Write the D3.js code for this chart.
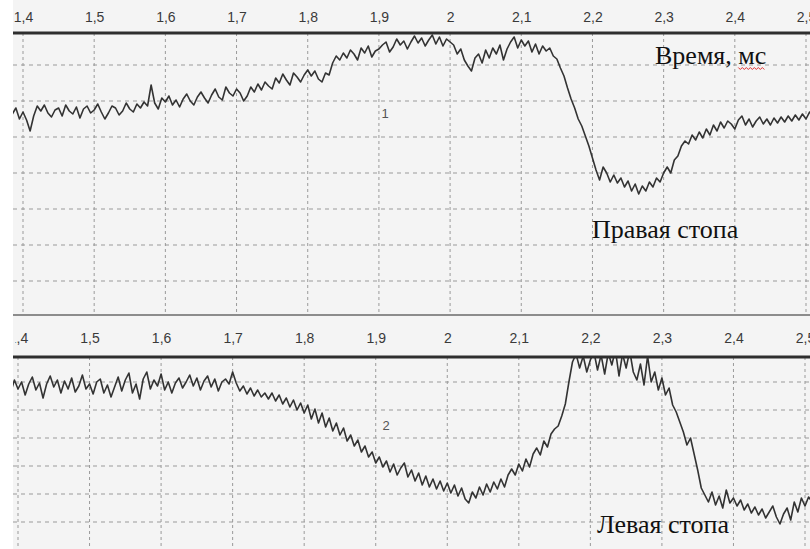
<!DOCTYPE html>
<html><head><meta charset="utf-8">
<script src="https://cdn.jsdelivr.net/npm/d3@7"></script>
<style>body{margin:0;background:#fff}svg{display:block}</style>
</head><body><svg id="c" width="810" height="549"></svg>
<script>
// ---- data ----
const tickValues = [1.4, 1.5, 1.6, 1.7, 1.8, 1.9, 2.0, 2.1, 2.2, 2.3, 2.4, 2.5];
const timeStart = 1.385, timeStep = 0.005, sampleCount = 226;
const gridTop = [36, 72, 108, 144, 180, 216, 252];
const gridBottom = [28, 56, 84, 112, 140, 168];
const axisLabel = "Время, мс";
const panelNames = ["Правая стопа", "Левая стопа"];
const seriesIds = ["1", "2"];

// right foot (panel 1), amplitude in arbitrary units
const rightFoot = [
 203,209,198,205,197,186,201,211,206,212,204,200,207,209,201,212,206,203,210,199,
 208,211,204,207,213,205,198,204,211,209,202,206,214,208,205,213,209,215,211,232,
 214,208,219,215,221,212,217,210,218,223,216,212,220,225,219,214,222,228,220,217,230,224,221,228,
 224,216,221,230,225,233,227,235,231,228,239,234,243,237,232,244,240,235,242,247,
 241,246,238,235,244,242,254,261,257,264,259,267,263,257,269,264,271,260,266,268,
 272,275,265,270,278,272,276,268,275,281,274,279,271,277,282,273,280,271,278,275,
 272,263,268,257,251,246,259,263,254,267,259,269,263,272,257,268,275,280,269,277,
 271,276,265,273,263,271,266,269,261,258,249,241,229,218,209,198,191,181,171,159,
 147,137,150,144,135,142,134,139,130,136,126,133,123,131,126,135,130,139,135,144,
 150,144,157,161,171,176,173,182,177,185,179,188,182,192,186,195,189,196,193,188,
 197,201,192,198,190,196,200,193,198,192,199,194,200,195,201,196,202,197,203,198,205,202
];
// left foot (panel 2)
const leftFoot = [
 165,158,170,161,168,155,166,173,160,167,152,166,174,163,170,157,169,161,172,158,
 164,175,161,166,156,168,171,157,165,153,163,173,159,170,177,157,166,151,171,178,
 161,170,164,176,160,168,157,167,172,162,168,175,164,172,160,169,174,163,171,159,168,171,166,178,
 167,159,164,156,162,154,160,153,157,151,157,149,155,146,152,143,150,140,147,137,
 145,131,141,127,137,123,132,119,127,115,122,109,115,104,110,98,104,93,98,87,
 93,83,89,78,86,75,82,87,73,80,69,77,65,74,63,71,61,69,59,67,
 57,65,54,62,51,47,58,52,63,55,66,58,68,61,71,63,75,81,75,86,
 79,91,83,96,102,95,109,103,116,121,124,134,146,168,188,196,182,194,178,190,
 198,180,195,176,197,185,200,174,196,182,199,178,170,186,165,194,168,178,160,172,
 155,162,145,138,128,118,105,112,96,80,62,55,48,58,45,54,42,60,47,52,
 44,50,40,46,37,43,35,41,32,38,44,33,26,36,42,30,48,38,52,44,53,48
];
const times = d3.range(sampleCount).map(i => +(timeStart + i * timeStep).toFixed(3));

// ---- drawing ----
const svg = d3.select("#c");
const W = 810, H = 549, L = 13;
const locale = d3.formatLocale({decimal: ",", thousands: " ", grouping: [3], currency: ["", ""]});
const fmt = locale.format("~g");

const xTop = d3.scaleLinear().domain([1.4, 2.5]).range([23, 806]);
const xBot = d3.scaleLinear().domain([1.4, 2.5]).range([18, 805]);
const yTop = d3.scaleLinear().domain([0, 288]).range([317, 29]);
const yBot = d3.scaleLinear().domain([0, 196]).range([550, 354]);

const defs = svg.append("defs");
defs.append("clipPath").attr("id", "clipTop").append("rect").attr("x", L).attr("y", 34).attr("width", W - L).attr("height", 280);
defs.append("clipPath").attr("id", "clipBot").append("rect").attr("x", L).attr("y", 357).attr("width", W - L).attr("height", H - 357);
defs.append("clipPath").attr("id", "clipLab").append("rect").attr("x", 15.5).attr("y", -200).attr("width", W - 15.5).attr("height", 400);

svg.append("rect").attr("x", L).attr("y", 0).attr("width", W - L).attr("height", H).attr("fill", "#f4f4f4");

const gridColor = "#9a9a9a";
function panel(x, y, grid, yTopLine, yBottomLine, data, clipId, axisY, labelClip) {
  const g = svg.append("g");
  g.selectAll(".h").data(grid).join("line")
    .attr("x1", L).attr("x2", W).attr("y1", d => y(d)).attr("y2", d => y(d))
    .attr("stroke", gridColor).attr("stroke-width", 1).attr("stroke-dasharray", "4,4");
  g.selectAll(".v").data(tickValues).join("line")
    .attr("x1", d => x(d)).attr("x2", d => x(d)).attr("y1", yTopLine).attr("y2", yBottomLine)
    .attr("stroke", gridColor).attr("stroke-width", 1).attr("stroke-dasharray", "3,3");
  const line = d3.line().x((d, i) => x(times[i])).y(d => y(d));
  g.append("path").datum(data).attr("d", line).attr("fill", "none")
    .attr("stroke", "#333").attr("stroke-width", 1.6).attr("stroke-linejoin", "round")
    .attr("clip-path", `url(#${clipId})`);
  g.append("line").attr("x1", L).attr("x2", W).attr("y1", yTopLine).attr("y2", yTopLine)
    .attr("stroke", "#2e2e2e").attr("stroke-width", 3);
  const ax = g.append("g").attr("transform", `translate(0,${axisY})`)
    .call(d3.axisTop(x).tickValues(tickValues).tickSize(0).tickPadding(0).tickFormat(fmt));
  ax.select(".domain").remove();
  ax.selectAll("text").attr("font-family", "Liberation Sans, Arial, sans-serif")
    .attr("font-size", 14).attr("fill", "#3a3a3a");
  if (labelClip) ax.attr("clip-path", "url(#clipLab)");
  return g;
}

panel(xTop, yTop, gridTop, 33, 315, rightFoot, "clipTop", 22, false);
svg.append("line").attr("x1", L).attr("x2", W).attr("y1", 315).attr("y2", 315)
  .attr("stroke", "#6a6a6a").attr("stroke-width", 1.5);
panel(xBot, yBot, gridBottom, 357, H, leftFoot, "clipBot", 343, true);

// annotations
const serif = "Liberation Serif, Times New Roman, serif";
const tAxis = svg.append("text").attr("x", 655).attr("y", 64).attr("font-family", serif)
  .attr("font-size", 26).attr("fill", "#111").text(axisLabel);
svg.append("text").attr("x", 592).attr("y", 238).attr("font-family", serif)
  .attr("font-size", 26).attr("fill", "#111").text(panelNames[0]);
svg.append("text").attr("x", 597).attr("y", 533).attr("font-family", serif)
  .attr("font-size", 26).attr("fill", "#111").text(panelNames[1]);

const bb = tAxis.node().getBBox();
const sq = d3.range(0, 28, 2).map((d, i) => [bb.x + bb.width - 28 + d, 68 + (i % 2 ? 1.5 : -0.5)]);
svg.append("path").attr("d", d3.line()(sq)).attr("fill", "none").attr("stroke", "#e03030").attr("stroke-width", 1);

svg.append("text").attr("x", 385).attr("y", 118).attr("text-anchor", "middle")
  .attr("font-family", "Liberation Sans, Arial, sans-serif").attr("font-size", 13).attr("fill", "#555").text(seriesIds[0]);
svg.append("text").attr("x", 386).attr("y", 430).attr("text-anchor", "middle")
  .attr("font-family", "Liberation Sans, Arial, sans-serif").attr("font-size", 13).attr("fill", "#555").text(seriesIds[1]);
</script></body></html>
